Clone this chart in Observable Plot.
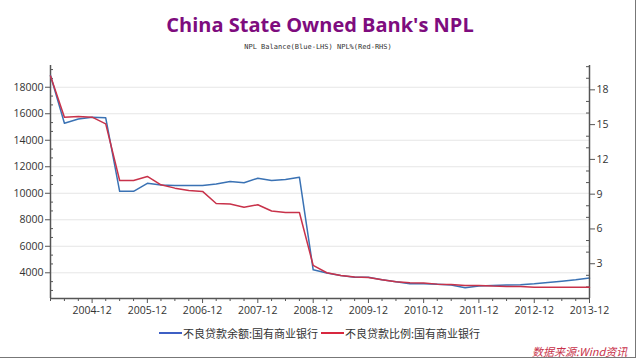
<!DOCTYPE html>
<html><head><meta charset="utf-8">
<script src="https://cdn.jsdelivr.net/npm/d3@7"></script>
<script src="https://cdn.jsdelivr.net/npm/@observablehq/plot@0.6"></script>
<style>
body{margin:0;background:#fff;}
#wrap{position:relative;width:640px;height:360px;overflow:hidden;font-family:"Open Sans",sans-serif;background:#fff;}
#frame{position:absolute;left:0;top:0;width:636px;height:358px;border-right:1.5px solid #777;border-bottom:1.5px solid #777;box-sizing:border-box;}
#title{position:absolute;left:0;top:13px;width:640px;text-align:center;font-weight:bold;font-size:20px;color:#7e0c7e;line-height:24px;white-space:nowrap;}
#sub{position:absolute;left:0;top:42px;width:636px;text-align:center;font-family:"DejaVu Sans Mono",monospace;font-size:7px;color:#333;line-height:10px;white-space:pre;}
.chart{position:absolute;left:0;top:58px;}
#legend{position:absolute;left:159px;top:326px;height:14px;display:flex;align-items:center;font-family:"Noto Sans CJK SC",sans-serif;font-size:11px;color:#333;white-space:nowrap;}
.sw{display:inline-block;width:23px;height:1.5px;margin-right:1px;}
#source{position:absolute;left:532px;top:343px;font-family:"Noto Sans CJK SC",sans-serif;font-style:italic;font-size:11px;color:#c8324a;white-space:nowrap;line-height:16px;}
</style></head>
<body>
<div id="wrap">
  <div id="frame"></div>
  <div id="title">China State Owned Bank's NPL</div>
  <div id="sub">NPL Balance(Blue-LHS) NPL%(Red-RHS)</div>
  <div id="c1" class="chart"></div>
  <div id="c2" class="chart"></div>
  <div id="legend"></div>
  <div id="source">数据来源:Wind资讯</div>
</div>
<script>
const quarters = ["2004-03","2004-06","2004-09","2004-12","2005-03","2005-06","2005-09","2005-12",
"2006-03","2006-06","2006-09","2006-12","2007-03","2007-06","2007-09","2007-12",
"2008-03","2008-06","2008-09","2008-12","2009-03","2009-06","2009-09","2009-12",
"2010-03","2010-06","2010-09","2010-12","2011-03","2011-06","2011-09","2011-12",
"2012-03","2012-06","2012-09","2012-12","2013-03","2013-06","2013-09","2013-12"];
const balance = [18880,15280,15610,15740,15690,10150,10150,10750,
10630,10580,10580,10580,10700,10880,10790,11135,
10960,11040,11210,4225,3990,3790,3660,3660,
3470,3320,3170,3170,3135,3080,2870,2995,
3045,3070,3090,3165,3270,3370,3470,3600];
const ratio = [19.2,15.64,15.7,15.64,15.07,10.18,10.18,10.53,
9.81,9.52,9.32,9.24,8.2,8.15,7.87,8.09,
7.55,7.42,7.42,2.85,2.22,1.99,1.85,1.82,
1.62,1.45,1.36,1.33,1.24,1.21,1.13,1.13,
1.07,1.04,1.04,0.98,0.98,0.98,0.98,0.98];
const leftTicks = [4000,6000,8000,10000,12000,14000,16000,18000];
const rightTicks = [3,6,9,12,15,18];
const xTickLabels = ["2004-12","2005-12","2006-12","2007-12","2008-12","2009-12","2010-12","2011-12","2012-12","2013-12"];
const seriesNames = ["不良贷款余额:国有商业银行","不良贷款比例:国有商业银行"];
const seriesColors = ["#3a72b4","#c8324a"];

const parse = d3.utcParse("%Y-%m");
const data = quarters.map((q,i)=>({date:parse(q), bal:balance[i], ratio:ratio[i]}));
const xDomain = [data[0].date, data[data.length-1].date];
const leftDomain = [2060,19640];
const rightDomain = [0,20.1];
const W=640,H=262,mt=7,mb=22,ml=50,mr=51;
const innerW = W-ml-mr;
const axisColor = "#555";
const leftMinor = d3.range(2000,19700,2000/3).map(v=>Math.round(v)).filter(v=>v>=leftDomain[0]&&v<=leftDomain[1]&&v%2000!==0);
const rightMinor = d3.range(1,21).filter(v=>v%3!==0&&v<=rightDomain[1]);
const xMajor = xTickLabels.map(parse);
const xMinor = data.map(d=>d.date).filter(d=>d.getUTCMonth()!==11);
const font = {fontFamily:"'Open Sans',sans-serif",fontSize:"10.5px",color:"#333",background:"transparent",overflow:"visible"};

const p1 = Plot.plot({
  width:W,height:H,marginTop:mt,marginBottom:mb,marginLeft:ml,marginRight:mr,
  style:font,
  x:{type:"utc",domain:xDomain},
  y:{domain:leftDomain},
  marks:[
    Plot.gridY(leftTicks,{stroke:"#e6e6e6",strokeOpacity:1}),
    Plot.axisY(leftTicks,{anchor:"left",tickSize:5,tickPadding:2,tickFormat:d=>String(d),label:null,stroke:axisColor,fill:"#333"}),
    Plot.tickY(leftMinor,{y:d=>d,stroke:axisColor,insetRight:innerW-3}),
    Plot.axisX(xMajor,{anchor:"bottom",tickSize:5,tickPadding:3,tickFormat:d3.utcFormat("%Y-%m"),label:null,stroke:axisColor,fill:"#333"}),
    Plot.axisX(xMinor,{anchor:"bottom",tickSize:3,tickFormat:()=>"",label:null,stroke:axisColor}),
    Plot.ruleX([xDomain[0]],{stroke:axisColor,strokeWidth:1.5}),
    Plot.ruleY([leftDomain[0]],{stroke:axisColor,strokeWidth:1.5}),
    Plot.line(data,{x:"date",y:"bal",stroke:seriesColors[0],strokeWidth:1.5})
  ]
});
document.getElementById("c1").appendChild(p1);

const p2 = Plot.plot({
  width:W,height:H,marginTop:mt,marginBottom:mb,marginLeft:ml,marginRight:mr,
  style:font,
  x:{type:"utc",domain:xDomain,axis:null},
  y:{domain:rightDomain},
  marks:[
    Plot.axisY(rightTicks,{anchor:"right",tickSize:5,tickPadding:2,label:null,stroke:axisColor,fill:"#333"}),
    Plot.tickY(rightMinor,{y:d=>d,stroke:axisColor,insetLeft:innerW-3}),
    Plot.ruleX([xDomain[1]],{stroke:axisColor,strokeWidth:1.5}),
    Plot.line(data,{x:"date",y:"ratio",stroke:seriesColors[1],strokeWidth:1.5})
  ]
});
document.getElementById("c2").appendChild(p2);

const leg = document.getElementById("legend");
seriesNames.forEach((n,i)=>{
  const sw=document.createElement("span");sw.className="sw";sw.style.background=i===0?"#3d5fc4":"#d8283f";
  const t=document.createElement("span");t.textContent=n;t.style.marginRight=i===0?"3px":"0";
  leg.appendChild(sw);leg.appendChild(t);
});
</script>
</body></html>
